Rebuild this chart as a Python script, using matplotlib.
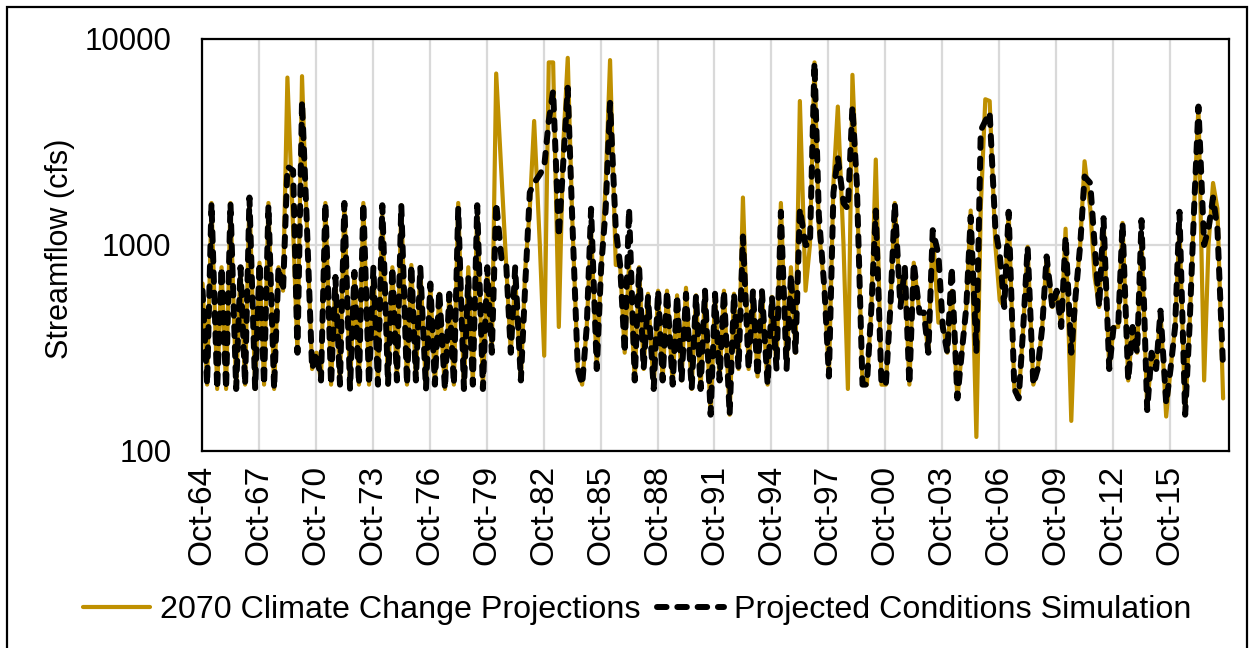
import numpy as np
import matplotlib.pyplot as plt
from matplotlib.patches import Rectangle
from matplotlib.ticker import NullLocator

plt.rcParams['font.family'] = ['Liberation Sans', 'DejaVu Sans']

# Water years (Oct-Sep), flows in cfs read at four points of each year:
# fall (~Oct), winter (~Jan), spring (~Apr), summer (~Jul)
water_years = np.arange(1965, 2019)
year_phase = [0.03, 0.27, 0.50, 0.80]

sim_fall = [600, 780, 780, 820, 780, 300, 300, 700, 740, 780,
            780, 800, 650, 580, 700, 780, 800, 640, 2400, 2500,
            210, 780, 800, 780, 600, 570, 570, 580, 580, 600,
            560, 720, 1000, 230, 1500, 210, 210, 780, 470, 400,
            300, 3600, 900, 180, 250, 600, 570, 1000, 400, 400,
            300, 250, 400, 1200]
sim_winter = [210, 200, 210, 210, 600, 5000, 220, 210, 210, 210,
              220, 220, 210, 210, 210, 300, 300, 1800, 4000, 5800,
              400, 1500, 300, 250, 220, 220, 200, 220, 250, 230,
              250, 300, 7700, 1800, 4700, 500, 500, 210, 300, 300,
              500, 4000, 500, 400, 400, 400, 1000, 500, 400, 300,
              250, 400, 1500, 1700]
sim_spring = [1600, 1600, 1700, 1560, 2400, 1450, 1600, 1600, 1600, 1560,
              1560, 780, 600, 1510, 1560, 1600, 780, 2000, 5600, 1400,
              1500, 4900, 1500, 560, 600, 580, 600, 600, 1100, 600,
              1450, 1500, 1400, 2670, 2000, 1470, 1600, 820, 1180, 780,
              1370, 4400, 1450, 980, 880, 1100, 2150, 1350, 1280, 1320,
              480, 1450, 4700, 1200]
sim_summer = [200, 200, 200, 200, 2300, 250, 210, 200, 210, 210,
              210, 200, 200, 200, 200, 820, 220, 2200, 1100, 250,
              250, 1200, 220, 200, 210, 200, 150, 150, 250, 210,
              250, 1000, 600, 1600, 210, 210, 500, 470, 900, 180,
              300, 1200, 200, 210, 500, 300, 2000, 250, 220, 158,
              170, 150, 1000, 250]

cc_fall = [650, 780, 780, 820, 780, 300, 300, 700, 740, 780,
           780, 800, 640, 580, 780, 780, 800, 760, 290, 3000,
           210, 780, 800, 780, 600, 570, 570, 580, 580, 600,
           560, 780, 1000, 230, 200, 210, 210, 780, 470, 420,
           300, 1500, 540, 180, 250, 600, 570, 700, 400, 400,
           300, 250, 400, 1000]
cc_winter = [210, 200, 210, 210, 600, 6600, 220, 210, 210, 210,
             220, 220, 210, 210, 210, 300, 300, 1500, 7700, 8100,
             400, 2000, 300, 250, 220, 220, 200, 220, 250, 230,
             250, 300, 7700, 2000, 6700, 500, 500, 210, 300, 300,
             500, 5100, 500, 400, 400, 400, 1000, 500, 400, 300,
             250, 400, 1500, 2000]
cc_spring = [1600, 1600, 1700, 1600, 6500, 1450, 1600, 1600, 1600, 1400,
             1560, 780, 580, 1600, 1500, 6800, 700, 4000, 7700, 1400,
             1180, 7900, 800, 580, 600, 620, 600, 600, 1700, 600,
             1600, 5000, 1200, 4700, 2000, 2600, 1600, 820, 1180, 600,
             1470, 5000, 1450, 980, 880, 1200, 2550, 1350, 1280, 1100,
             480, 1230, 4700, 1500]
cc_summer = [200, 200, 200, 200, 1200, 250, 210, 200, 210, 210,
             210, 200, 200, 200, 200, 2000, 220, 1000, 400, 250,
             250, 800, 220, 200, 210, 200, 150, 150, 250, 210,
             250, 600, 600, 1000, 210, 210, 500, 470, 420, 180,
             117, 1000, 200, 210, 500, 140, 1500, 250, 220, 158,
             147, 150, 220, 180]

tick_years = np.arange(1964, 2016, 3)

# time axis in decimal years, water year starts Oct 1 of previous calendar year
t = (water_years[:, None] - 0.25 + np.array(year_phase)[None, :]).ravel()
sim = np.column_stack([sim_fall, sim_winter, sim_spring, sim_summer]).ravel()
cc = np.column_stack([cc_fall, cc_winter, cc_spring, cc_summer]).ravel()

fig = plt.figure(figsize=(12.54, 6.48), dpi=100)
ax = fig.add_axes([202 / 1254, 1 - 451 / 648, (1229 - 202) / 1254, (451 - 39) / 648])

ax.plot(t, cc, color='#BF9000', lw=3.0, solid_joinstyle='round',
        solid_capstyle='round', zorder=2,
        label='2070 Climate Change Projections')
ax.plot(t, sim, color='black', lw=4.3, ls=(0, (1.6, 1.8)), dash_capstyle='round',
        zorder=3, label='Projected Conditions Simulation')

ax.set_yscale('log')
ax.set_ylim(100, 10000)
ax.set_yticks([100, 1000, 10000])
ax.set_yticklabels(['100', '1000', '10000'])
ax.yaxis.set_minor_locator(NullLocator())

ax.set_xlim(1964.75, 2018.86)
ax.set_xticks(tick_years + 0.75)
ax.set_xticklabels([f'Oct-{y % 100:02d}' for y in tick_years], rotation=90)

ax.tick_params(axis='both', length=0)
ax.tick_params(axis='x', pad=10, labelsize=24)
ax.tick_params(axis='y', pad=22, labelsize=22.5)
ax.grid(color='#d9d9d9', lw=1.6)
ax.set_axisbelow(True)
for s in ax.spines.values():
    s.set_linewidth(1.6)
    s.set_color('black')

fig.text(60 / 1254, 1 - 249 / 648, 'Streamflow (cfs)', rotation=90,
         ha='center', va='center', fontsize=22)

fig.legend(loc='center', bbox_to_anchor=(0.508, 1 - 610 / 648), ncol=2,
           frameon=False, fontsize=23.2, handlelength=2.1, handletextpad=0.3,
           columnspacing=0.5)

fig.patches.append(Rectangle((7 / 1254, -0.02), 1240 / 1254, 1 - 7 / 648 + 0.02,
                             transform=fig.transFigure, fill=False,
                             lw=1.6, ec='black'))

fig.savefig('out.png', dpi=100)
